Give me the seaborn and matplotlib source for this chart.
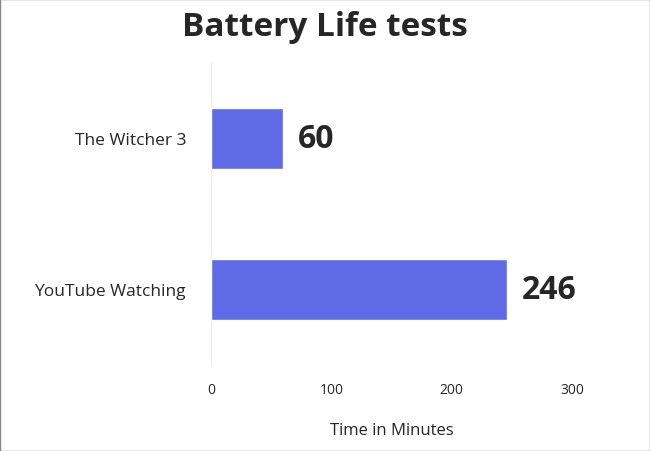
import matplotlib.pyplot as plt
import seaborn as sns
import pandas as pd

tests = ["The Witcher 3", "YouTube Watching"]
minutes = [60, 246]

sns.set_style("white")
plt.rcParams['font.family'] = ['Open Sans', 'DejaVu Sans']

df = pd.DataFrame({"test": tests, "minutes": minutes})

fig = plt.figure(figsize=(6.5, 4.52), dpi=100)
ax = fig.add_axes([211/650, 1 - 366/452, 361/650, 302/452])
sns.barplot(data=df, x="minutes", y="test", color="#5F6AE6", width=0.4,
            saturation=1, ax=ax)

for i, v in enumerate(minutes):
    ax.text(v + 12, i, str(v), va="center", ha="left",
            fontsize=23, fontweight="bold")

ax.set_xlim(0, 300)
ax.set_ylim(1.5, -0.5)
ax.set_xticks([0, 100, 200, 300])
ax.tick_params(axis="x", labelsize=10, length=0, pad=12)
ax.tick_params(axis="y", labelsize=12.5, length=0, pad=18)
ax.set_ylabel("")
ax.set_xlabel("Time in Minutes", fontsize=12, labelpad=18)
ax.axvline(0, color="#eeeeee", lw=0.8, zorder=0)
for s in ax.spines.values():
    s.set_visible(False)

fig.suptitle("Battery Life tests", fontsize=24, fontweight="bold", y=0.975)
fig.patches.append(plt.Rectangle((0, 0), 1, 1, transform=fig.transFigure,
                                 fill=False, edgecolor="#888888", lw=1))
fig.savefig("out.png", dpi=100)
